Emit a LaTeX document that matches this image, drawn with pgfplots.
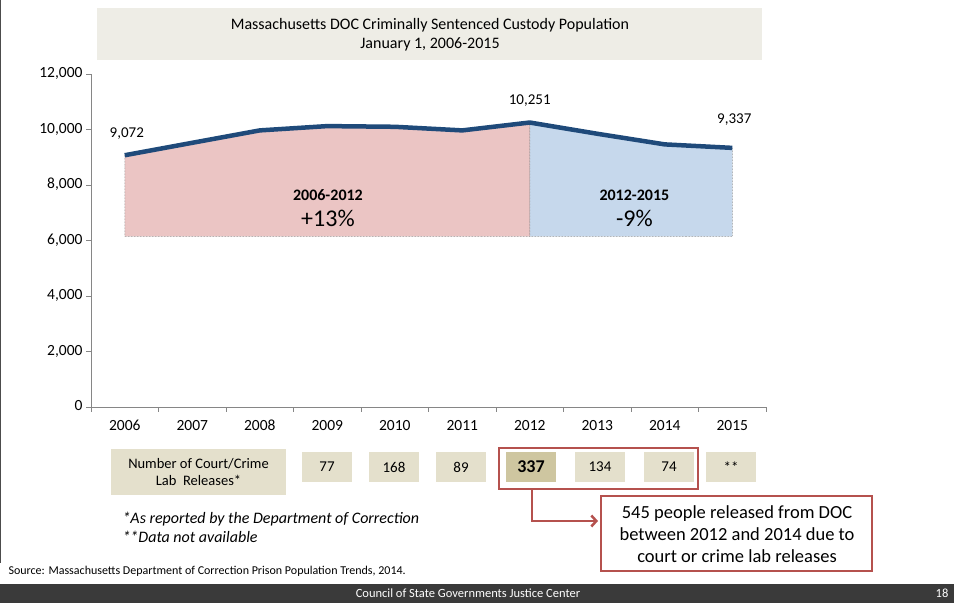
\documentclass[border=0pt]{standalone}
\usepackage{pgfplots}
\pgfplotsset{compat=1.18}
\usepackage{fontspec}
\setmainfont{Carlito}
\usetikzlibrary{arrows.meta}

\definecolor{linecol}{HTML}{1F4A7A}
\definecolor{pinkfill}{HTML}{EBC5C4}
\definecolor{bluefill}{HTML}{C6D8EC}
\definecolor{titlebg}{HTML}{EEEDE6}
\definecolor{boxbg}{HTML}{E4E0CC}
\definecolor{boxdark}{HTML}{CEC6A0}
\definecolor{redline}{HTML}{B5514E}
\definecolor{footbg}{HTML}{3A3A3A}
\definecolor{axgray}{HTML}{868686}

\newcommand{\fs}[1]{\fontsize{#1bp}{1.2\dimexpr#1bp\relax}\selectfont}

\begin{document}
\begin{tikzpicture}[x=1bp,y=1bp]
% page
\fill[white] (0,0) rectangle (954,603);
\useasboundingbox (0,0) rectangle (954,603);
\draw[black!70, line width=1bp] (0.5,603) -- (0.5,40);

% title box
\fill[titlebg] (97,543) rectangle (762,595);
\node[font=\fs{16}] at (430,578) {Massachusetts DOC Criminally Sentenced Custody Population};
\node[font=\fs{16}] at (430,559) {January 1, 2006-2015};

\begin{axis}[
    at={(91bp,196bp)}, anchor=south west,
    width=675bp, height=333bp, scale only axis,
    xmin=-0.5, xmax=9.5, ymin=0, ymax=12000,
    axis x line*=bottom, axis y line*=left,
    axis line style={axgray, line width=0.6bp},
    xtick={0,...,9},
    xticklabels={2006,2007,2008,2009,2010,2011,2012,2013,2014,2015},
    major x tick style={draw=none},
    minor xtick={-0.5,0.5,...,9.5},
    ytick={0,2000,...,12000},
    scaled y ticks=false,
    tick align=outside,
    major tick length=5bp, minor tick length=5bp,
    tick style={axgray, line width=0.6bp},
    yticklabel style={/pgf/number format/1000 sep={,}},
    /pgf/number format/assume math mode=true,
    tick label style={font=\fs{15.5}},
    typeset ticklabels with strut,
    x tick label style={yshift=-2bp},
    clip=false,
]
% shaded periods
\addplot[fill=pinkfill, draw=black!60, densely dotted, line width=0.5bp]
  coordinates {(0,6150) (0,9072) (1,9520) (2,9967) (3,10122) (4,10097) (5,9967) (6,10251) (6,6150)} -- cycle;
\addplot[fill=bluefill, draw=black!60, densely dotted, line width=0.5bp]
  coordinates {(6,6150) (6,10251) (7,9846) (8,9463) (9,9337) (9,6150)} -- cycle;
% population line
\addplot[linecol, line width=4.5bp, line join=round]
  coordinates {(0,9072) (1,9520) (2,9967) (3,10122) (4,10097) (5,9967) (6,10251) (7,9846) (8,9463) (9,9337)};

\node[font=\fs{15}] at (axis cs:0.03,9850) {9,072};
\node[font=\fs{15}] at (axis cs:6,11040) {10,251};
\node[font=\fs{15}] at (axis cs:9.03,10350) {9,337};

\node[font=\bfseries\fs{16}] at (axis cs:3.01,7640) {2006-2012};
\node[font=\fs{24}] at (axis cs:3.01,6780) {+13\%};
\node[font=\bfseries\fs{16}] at (axis cs:7.55,7640) {2012-2015};
\node[font=\fs{24}] at (axis cs:7.55,6780) {-9\%};
\end{axis}

% releases row
\fill[boxbg] (111,108) rectangle (286,154);
\node[font=\fs{14.5}, align=center] at (198.5,131) {Number of Court/Crime\\Lab\ \ Releases*};
\foreach \cx/\lab in {327/77, 394/168, 461/89, 600/134, 669/74, 731/**}{
  \fill[boxbg] (\cx-25,121) rectangle (\cx+25,151);
  \node[font=\fs{15}] at (\cx,136) {\lab};
}
\fill[boxdark] (506,121) rectangle (556,151);
\node[font=\bfseries\fs{18}] at (531,136) {337};
\draw[redline, line width=2.5bp] (499,155) rectangle (698,114);

% callout
\draw[redline, line width=2.5bp, -{Straight Barb[length=5bp,width=11bp]}] (532,114) -- (532,82) -- (598,82);
\draw[redline, line width=2.5bp, fill=white] (601,107) rectangle (872,32);
\node[font=\fs{18.5}, align=center] at (737,69) {545 people released from DOC\\between 2012 and 2014 due to\\court or crime lab releases};

% footnotes
\node[font=\itshape\fs{16}, anchor=west] at (119,84) {*As reported by the Department of Correction};
\node[font=\itshape\fs{16}, anchor=west] at (119,66) {**Data not available};
\node[font=\fs{12}, anchor=west] at (5,32) {Source: Massachusetts Department of Correction Prison Population Trends, 2014.};

% footer
\fill[footbg] (0,0) rectangle (954,19);
\node[font=\fs{12.5}, text=white] at (468,9.5) {Council of State Governments Justice Center};
\node[font=\fs{12.5}, text=white] at (942,9.5) {18};
\end{tikzpicture}
\end{document}
